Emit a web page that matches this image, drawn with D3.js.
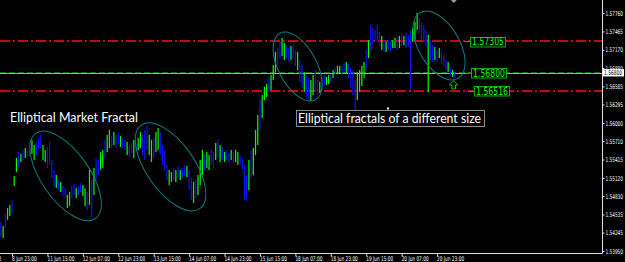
<!DOCTYPE html>
<html>
<head>
<meta charset="utf-8">
<script src="https://cdn.jsdelivr.net/npm/d3@7"></script>
<style>
  html, body { margin: 0; padding: 0; background: #000; }
  svg { display: block; }
</style>
</head>
<body>
<svg id="chart" width="625" height="262"></svg>
<script>
// H1 bars (high / low per bar)
const highs = [
  1.54416, 1.54352, 1.54560, 1.54640, 1.54688, 1.54768, 1.55152, 1.55440, 1.55536, 1.55504,
  1.55568, 1.55600, 1.55568, 1.55584, 1.55728, 1.55648, 1.55696, 1.55776, 1.55824, 1.55648,
  1.55568, 1.55616, 1.55696, 1.55408, 1.55248, 1.55168, 1.55088, 1.55056, 1.54992, 1.54960,
  1.54848, 1.54896, 1.54992, 1.55024, 1.54960, 1.54992, 1.55040, 1.55008, 1.54960, 1.54896,
  1.55248, 1.55088, 1.55280, 1.55440, 1.55408, 1.55536, 1.55568, 1.55728, 1.55808, 1.55888,
  1.55792, 1.55856, 1.55808, 1.55840, 1.55792, 1.55760, 1.55728, 1.55696, 1.55648, 1.55680,
  1.55728, 1.55680, 1.55760, 1.55856, 1.55808, 1.55888, 1.55952, 1.55808, 1.55728, 1.55760,
  1.55856, 1.55920, 1.55856, 1.55648, 1.55568, 1.55328, 1.55248, 1.55216, 1.55280, 1.55248,
  1.55312, 1.55248, 1.55280, 1.55328, 1.55312, 1.55248, 1.55120, 1.55056, 1.55088, 1.55168,
  1.55408, 1.55568, 1.55488, 1.55536, 1.55488, 1.55568, 1.55536, 1.55680, 1.55728, 1.55648,
  1.55616, 1.55536, 1.55568, 1.55520, 1.55568, 1.55536, 1.55568, 1.55536, 1.55488, 1.55440,
  1.55328, 1.55168, 1.55408, 1.55568, 1.55600, 1.55888, 1.56128, 1.56368, 1.56448, 1.56576,
  1.56624, 1.56720, 1.56768, 1.56928, 1.57136, 1.57200, 1.57296, 1.57360, 1.57280, 1.57248,
  1.57200, 1.57232, 1.57264, 1.57168, 1.57136, 1.57008, 1.56928, 1.56816, 1.56768, 1.56720,
  1.56688, 1.56768, 1.56848, 1.56688, 1.56656, 1.56720, 1.56752, 1.56736, 1.56768, 1.56784,
  1.56848, 1.56896, 1.56912, 1.56912, 1.56928, 1.56960, 1.56976, 1.56944, 1.56880, 1.56848,
  1.56688, 1.56816, 1.56848, 1.56912, 1.56976, 1.57168, 1.57328, 1.57568, 1.57520, 1.57488,
  1.57568, 1.57456, 1.57392, 1.57328, 1.57296, 1.57328, 1.57296, 1.57328, 1.57360, 1.57376,
  1.57392, 1.57424, 1.57392, 1.57440, 1.57408, 1.57488, 1.57520, 1.57616, 1.57760, 1.57680,
  1.57616, 1.57568, 1.57488, 1.57408, 1.57328, 1.57248, 1.57216, 1.57168, 1.57200, 1.57136,
  1.57088, 1.57008, 1.56976, 1.56880, 1.56848, 1.56816
]
const lows = [
  1.54176, 1.54160, 1.54320, 1.54448, 1.54512, 1.54544, 1.54992, 1.55216, 1.55312, 1.55376,
  1.55408, 1.55440, 1.55456, 1.55472, 1.55504, 1.55408, 1.55472, 1.55568, 1.55600, 1.55408,
  1.55376, 1.55280, 1.55328, 1.55120, 1.54992, 1.54960, 1.54928, 1.54896, 1.54832, 1.54800,
  1.54640, 1.54672, 1.54800, 1.54848, 1.54800, 1.54848, 1.54896, 1.54832, 1.54672, 1.54608,
  1.54688, 1.54496, 1.54848, 1.55088, 1.55168, 1.55248, 1.55280, 1.55440, 1.55536, 1.55600,
  1.55600, 1.55648, 1.55600, 1.55664, 1.55616, 1.55600, 1.55568, 1.55488, 1.55456, 1.55520,
  1.55440, 1.55536, 1.55568, 1.55600, 1.55488, 1.55408, 1.55568, 1.55488, 1.55376, 1.55440,
  1.55536, 1.55568, 1.55488, 1.55328, 1.55248, 1.55088, 1.55008, 1.55056, 1.55088, 1.55056,
  1.55120, 1.55088, 1.55120, 1.55152, 1.55136, 1.54928, 1.54768, 1.54720, 1.54800, 1.54848,
  1.55008, 1.55168, 1.55248, 1.55280, 1.55248, 1.55328, 1.55280, 1.55408, 1.55440, 1.55376,
  1.55408, 1.55376, 1.55408, 1.55360, 1.55408, 1.55360, 1.55376, 1.55328, 1.55328, 1.55248,
  1.54768, 1.54752, 1.54928, 1.55120, 1.55168, 1.55488, 1.55648, 1.55888, 1.56080, 1.56368,
  1.56416, 1.56496, 1.56528, 1.56688, 1.56816, 1.56928, 1.57040, 1.57072, 1.57008, 1.57040,
  1.56976, 1.57008, 1.57040, 1.56912, 1.56848, 1.56656, 1.56560, 1.56496, 1.56400, 1.56400,
  1.56352, 1.56448, 1.56496, 1.56448, 1.56480, 1.56528, 1.56592, 1.56608, 1.56624, 1.56656,
  1.56720, 1.56784, 1.56784, 1.56800, 1.56784, 1.56816, 1.56784, 1.56720, 1.56560, 1.56448,
  1.56176, 1.56368, 1.56496, 1.56592, 1.56720, 1.56848, 1.57040, 1.57168, 1.57248, 1.57296,
  1.57328, 1.57232, 1.57168, 1.57136, 1.57136, 1.57168, 1.57152, 1.57200, 1.57200, 1.57168,
  1.57200, 1.57232, 1.57248, 1.57200, 1.57216, 1.56528, 1.57296, 1.57328, 1.57488, 1.57424,
  1.57328, 1.57296, 1.57216, 1.56496, 1.57008, 1.56976, 1.57008, 1.56976, 1.57040, 1.56944,
  1.56912, 1.56848, 1.56816, 1.56752, 1.56736, 1.56720
]
// bar direction as seen in the picture: u = bull (green), d = bear (blue)
const directions = (
  'duduuduudu' + 'dudduudddu' + 'uddddududd' + 'uuddudduud' + 'ududduuduu' +
  'dudduddudd' + 'uduuddduud' + 'uudddduudu' + 'dudduddudu' + 'uuduuddudu' +
  'dudduduudd' + 'dduduuuduu' + 'uduuudduud' + 'dudduddudd' + 'uuddudduud' +
  'uduudduddd' + 'duuuududdd' + 'ddududduud' + 'ududdduuud' + 'ddduddudud' +
  'ddudud'
).split('')

const priceTicks = [1.5776, 1.57465, 1.5717, 1.5688, 1.56585, 1.56295, 1.56, 1.5571, 1.55415, 1.5512, 1.5483, 1.54535, 1.54245, 1.5395]
const priceTickLabels = ['1.57760', '1.57465', '1.57170', '1.56880', '1.56585', '1.56295', '1.56000', '1.55710', '1.55415', '1.55120', '1.54830', '1.54535', '1.54245', '1.53950']

// bar index of each time label
const timeTickBars = [-11, 5, 21, 37, 53, 69, 85, 101, 117, 133, 149, 165, 181, 197]
const timeTickLabels = ['8 Jun 07:00', '8 Jun 23:00', '11 Jun 15:00', '12 Jun 07:00', '12 Jun 23:00', '13 Jun 15:00', '14 Jun 07:00', '14 Jun 23:00', '15 Jun 15:00', '18 Jun 07:00', '18 Jun 23:00', '19 Jun 15:00', '20 Jun 07:00', '20 Jun 23:00']

const levels = [1.57305, 1.568, 1.56516]
const levelLabels = ['1.57305', '1.56800', '1.56516']
const levelLabelBars = [211.9, 212.3, 213.7]
const bidPrice = 1.568

// ellipse centres (bar index, price)
const fractalBars = [29.2, 76.6, 134.0, 197.9]
const fractalPrices = [1.55152, 1.55296, 1.56904, 1.5724]

const notes = ['Elliptical Market Fractal', 'Elliptical fractals of a different size']
const noteBars = [4.1, 133.3]
const notePrices = [1.5602, 1.562]

const arrowBar = 204.5
const arrowPrice = 1.5668

const W = 625
const H = 262
const plotRight = 602.5
const plotBottom = 253.5
const barStep = 2.214

const svg = d3.select('#chart')
svg.append('rect').attr('width', W).attr('height', H).attr('fill', '#000')

const x = d3.scaleLinear().domain([0, 271.5]).range([0.93, 0.93 + 271.5 * barStep])
const y = d3.scaleLinear().domain([1.5395, 1.5776]).range([251, 13])

// horizontal level lines
const lineG = svg.append('g')
lineG.append('line')
  .attr('x1', 0).attr('x2', plotRight)
  .attr('y1', Math.round(y(bidPrice)) + 0.5).attr('y2', Math.round(y(bidPrice)) + 0.5)
  .attr('stroke', '#a4aca4').attr('stroke-width', 1)

levels.forEach((lv, i) => {
  const red = i !== 1
  const yy = Math.round(y(lv)) + (red ? 0 : -0.5)
  lineG.append('line')
    .attr('x1', 0).attr('x2', plotRight)
    .attr('y1', yy).attr('y2', yy)
    .attr('stroke', red ? '#ff1010' : '#00a000')
    .attr('stroke-width', red ? 1.4 : 1)
    .attr('stroke-opacity', red ? 1 : 0.75)
    .attr('stroke-dasharray', red ? '10,3,2,3' : '6,3')
})

// bars
svg.append('g')
  .selectAll('line')
  .data(d3.range(highs.length))
  .join('line')
  .attr('x1', (i) => x(i))
  .attr('x2', (i) => x(i))
  .attr('y1', (i) => y(highs[i]))
  .attr('y2', (i) => y(lows[i]))
  .attr('stroke', (i) => directions[i] === 'u' ? '#00ff00' : '#1010ff')
  .attr('stroke-width', 1.2)

// ellipses (semi axes and tilt)
const ellipseShapes = [
  { a: 52, b: 24, rot: 55 },
  { a: 51, b: 24, rot: 55 },
  { a: 37.7, b: 19.2, rot: 62 },
  { a: 38, b: 20.5, rot: 60 }
]
svg.append('g')
  .selectAll('ellipse')
  .data(fractalBars)
  .join('ellipse')
  .attr('cx', 0).attr('cy', 0)
  .attr('rx', (d, i) => ellipseShapes[i].a)
  .attr('ry', (d, i) => ellipseShapes[i].b)
  .attr('transform', (d, i) => `translate(${x(d)},${y(fractalPrices[i])}) rotate(${ellipseShapes[i].rot})`)
  .attr('fill', 'none')
  .attr('stroke', '#0e7c7c')
  .attr('stroke-width', 1)

// text notes
svg.append('text')
  .attr('x', x(noteBars[0])).attr('y', y(notePrices[0]))
  .attr('fill', '#fff')
  .attr('font-family', 'Lato, "Open Sans", sans-serif')
  .attr('font-size', 13)
  .attr('textLength', 128)
  .attr('lengthAdjust', 'spacingAndGlyphs')
  .text(notes[0])

const n2x = x(noteBars[1])
const n2y = y(notePrices[1])
svg.append('rect')
  .attr('x', Math.round(n2x) + 0.5).attr('y', Math.round(n2y) + 0.5)
  .attr('width', 188).attr('height', 16)
  .attr('fill', '#000').attr('stroke', '#8c8c8c').attr('stroke-width', 1)
svg.append('rect')
  .attr('x', n2x + 91).attr('y', n2y - 3)
  .attr('width', 2).attr('height', 2)
  .attr('fill', '#fff')
svg.append('text')
  .attr('x', n2x + 2).attr('y', n2y + 12.3)
  .attr('fill', '#fff')
  .attr('font-family', 'Lato, "Open Sans", sans-serif')
  .attr('font-size', 13)
  .attr('textLength', 183)
  .attr('lengthAdjust', 'spacingAndGlyphs')
  .text(notes[1])

// level price boxes
const boxG = svg.append('g')
levels.forEach((lv, i) => {
  const bx = Math.round(x(levelLabelBars[i])) + 0.5
  const cy = y(lv)
  boxG.append('line')
    .attr('x1', bx - 6).attr('x2', bx)
    .attr('y1', Math.round(cy) + 0.5).attr('y2', Math.round(cy) + 0.5)
    .attr('stroke', '#00c000')
  boxG.append('rect')
    .attr('x', bx).attr('y', Math.round(cy - 4.5) + 0.5)
    .attr('width', 35).attr('height', 9.5)
    .attr('fill', '#000').attr('stroke', '#00b000').attr('stroke-width', 1)
  boxG.append('text')
    .attr('x', bx + 1.5).attr('y', cy + 4)
    .attr('fill', '#00ff00')
    .attr('font-family', '"DejaVu Sans", sans-serif')
    .attr('font-size', 10)
    .attr('textLength', 32)
    .attr('lengthAdjust', 'spacingAndGlyphs')
    .text(levelLabels[i])
})

// hollow up arrow under the last bar
const ax = x(arrowBar)
const ay = y(arrowPrice)
svg.append('path')
  .attr('d', `M${ax},${ay} L${ax + 4},${ay + 4.5} L${ax + 1.8},${ay + 4.5} L${ax + 1.8},${ay + 8.5} L${ax - 1.8},${ay + 8.5} L${ax - 1.8},${ay + 4.5} L${ax - 4},${ay + 4.5} Z`)
  .attr('fill', 'none').attr('stroke', '#00c000').attr('stroke-width', 1)

// chart shift marker at the top
const sx = x(highs.length - 1) - 1
svg.append('path')
  .attr('d', `M${sx - 3},0 L${sx + 3},0 L${sx},3 Z`)
  .attr('fill', '#9a9a9a')

// price axis
const yAxis = d3.axisRight(y)
  .tickValues(priceTicks)
  .tickFormat((d, i) => priceTickLabels[i])
  .tickSize(2)
  .tickPadding(1)
const yAxisG = svg.append('g').attr('transform', `translate(${plotRight},0)`).call(yAxis)
yAxisG.select('.domain').remove()
yAxisG.selectAll('line').attr('stroke', '#ddd')
yAxisG.selectAll('text')
  .attr('fill', '#fff')
  .attr('font-family', '"DejaVu Sans", sans-serif')
  .attr('font-size', 6.5)
  .attr('textLength', 17.5)
  .attr('lengthAdjust', 'spacingAndGlyphs')

// current bid box on the price axis
const by = y(bidPrice)
svg.append('rect')
  .attr('x', plotRight + 0.5).attr('y', by - 3.8)
  .attr('width', 21).attr('height', 7.3)
  .attr('fill', '#fff')
svg.append('text')
  .attr('x', plotRight + 1.5).attr('y', by + 2.3)
  .attr('fill', '#000')
  .attr('font-family', '"DejaVu Sans", sans-serif')
  .attr('font-size', 6.5)
  .attr('textLength', 18)
  .attr('lengthAdjust', 'spacingAndGlyphs')
  .text(levelLabels[1])

// time axis
const xAxis = d3.axisBottom(x)
  .tickValues(timeTickBars)
  .tickFormat((d, i) => timeTickLabels[i])
  .tickSize(3)
  .tickSizeOuter(0)
const xAxisG = svg.append('g').attr('transform', `translate(0,${plotBottom})`).call(xAxis)
xAxisG.select('.domain').remove()
xAxisG.selectAll('line').attr('stroke', '#ddd')
xAxisG.selectAll('text')
  .attr('text-anchor', 'start')
  .attr('x', -0.5)
  .attr('y', 7.3)
  .attr('dy', null)
  .attr('fill', '#fff')
  .attr('font-family', '"DejaVu Sans", sans-serif')
  .attr('font-size', 6.5)
  .attr('textLength', (d, i) => timeTickLabels[i].length * 2.25)
  .attr('lengthAdjust', 'spacingAndGlyphs')

// frame lines
svg.append('line')
  .attr('x1', 0).attr('x2', plotRight)
  .attr('y1', plotBottom).attr('y2', plotBottom)
  .attr('stroke', '#e0e0e0')
svg.append('line')
  .attr('x1', plotRight).attr('x2', plotRight)
  .attr('y1', 0).attr('y2', plotBottom)
  .attr('stroke', '#e0e0e0')
</script>
</body>
</html>
